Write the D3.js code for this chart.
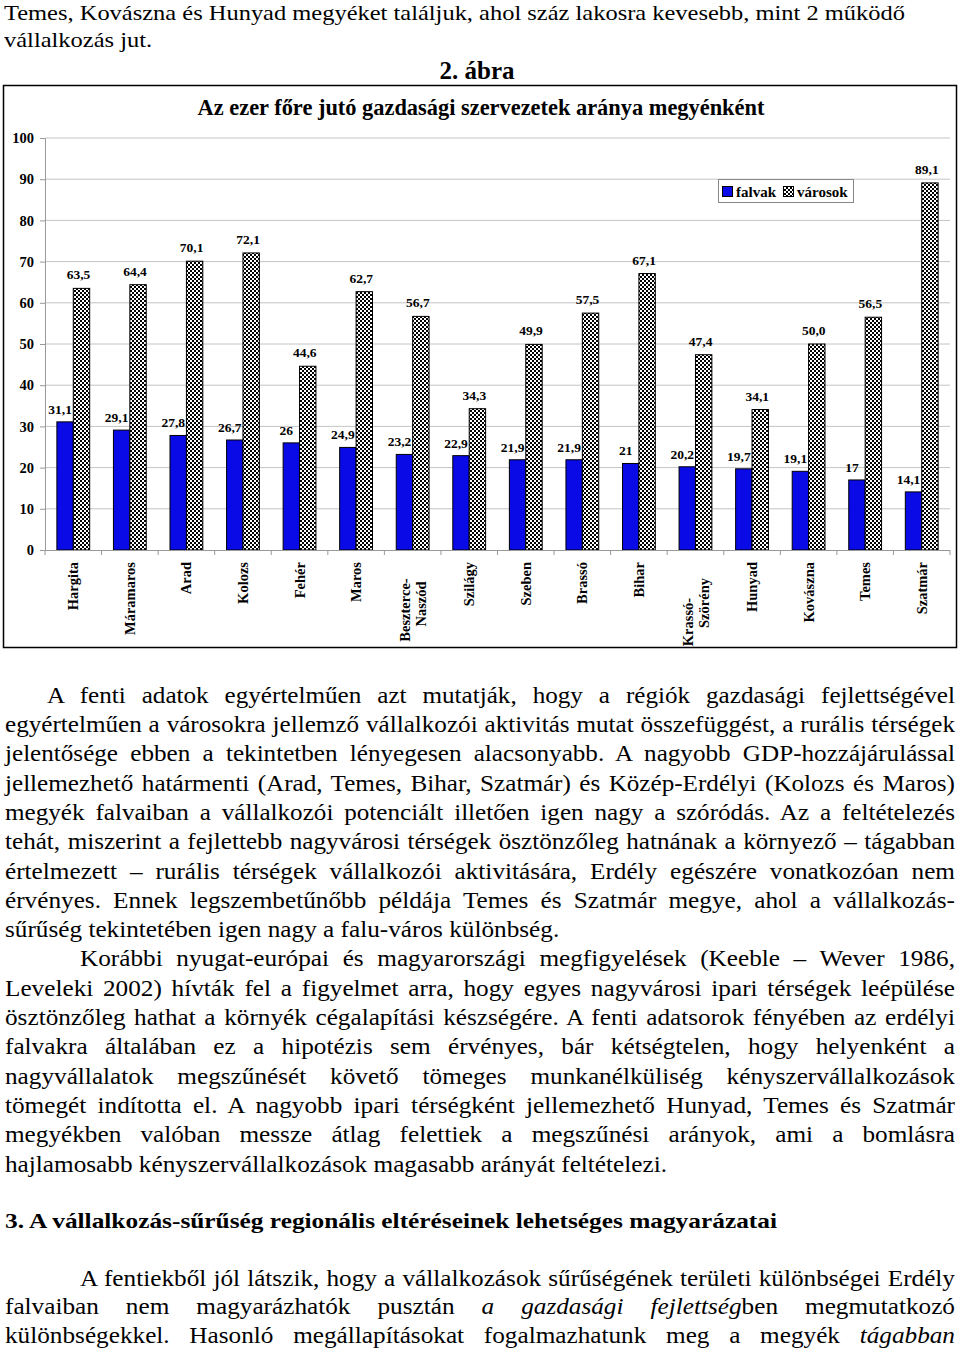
<!DOCTYPE html>
<html>
<head>
<meta charset="utf-8">
<script src="https://cdn.jsdelivr.net/npm/d3@7"></script>
<style>
  body { margin: 0; background: #fff; width: 960px; height: 1349px; position: relative; overflow: hidden;
         font-family: "Liberation Serif", "Times New Roman", serif; }
  #chart { position: absolute; left: 0; top: 0; }
  .ln { position: absolute; color: #000; transform-origin: 0 0; line-height: 29px; }
  .just { text-align: justify; text-align-last: justify; white-space: normal; }
  .left { text-align: left; white-space: nowrap; }
  #measure { position: absolute; visibility: hidden; white-space: nowrap; left: 0; top: 0; }
</style>
</head>
<body>
<svg id="chart" width="960" height="660"></svg>
<div id="text"></div>
<span id="measure"></span>
<script>
// chart data
var counties = ["Hargita", "Máramaros", "Arad", "Kolozs", "Fehér", "Maros", "Beszterce-Naszód", "Szilágy",
                "Szeben", "Brassó", "Bihar", "Krassó-Szörény", "Hunyad", "Kovászna", "Temes", "Szatmár"];
var falvak  = [31.1, 29.1, 27.8, 26.7, 26, 24.9, 23.2, 22.9, 21.9, 21.9, 21, 20.2, 19.7, 19.1, 17, 14.1];
var varosok = [63.5, 64.4, 70.1, 72.1, 44.6, 62.7, 56.7, 34.3, 49.9, 57.5, 67.1, 47.4, 34.1, 50.0, 56.5, 89.1];
var yTicks  = [0, 10, 20, 30, 40, 50, 60, 70, 80, 90, 100];
var seriesNames = ["falvak", "városok"];

// text of the page
var topLines = [
  "Temes, Kovászna és Hunyad megyéket találjuk, ahol száz lakosra kevesebb, mint 2 működő",
  "vállalkozás jut."
];
var para1 = [
  "A fenti adatok egyértelműen azt mutatják, hogy a régiók gazdasági fejlettségével",
  "egyértelműen a városokra jellemző vállalkozói aktivitás mutat összefüggést, a rurális térségek",
  "jelentősége ebben a tekintetben lényegesen alacsonyabb. A nagyobb GDP-hozzájárulással",
  "jellemezhető határmenti (Arad, Temes, Bihar, Szatmár) és Közép-Erdélyi (Kolozs és Maros)",
  "megyék falvaiban a vállalkozói potenciált illetően igen nagy a szóródás. Az a feltételezés",
  "tehát, miszerint a fejlettebb nagyvárosi térségek ösztönzőleg hatnának a környező – tágabban"
];
var para1b = [
  "értelmezett – rurális térségek vállalkozói aktivitására, Erdély egészére vonatkozóan nem",
  "érvényes. Ennek legszembetűnőbb példája Temes és Szatmár megye, ahol a vállalkozás-",
  "sűrűség tekintetében igen nagy a falu-város különbség."
];
var para2 = [
  "Korábbi nyugat-európai és magyarországi megfigyelések (Keeble – Wever 1986,",
  "Leveleki 2002) hívták fel a figyelmet arra, hogy egyes nagyvárosi ipari térségek leépülése",
  "ösztönzőleg hathat a környék cégalapítási készségére. A fenti adatsorok fényében az erdélyi",
  "falvakra általában ez a hipotézis sem érvényes, bár kétségtelen, hogy helyenként a",
  "nagyvállalatok megszűnését követő tömeges munkanélküliség kényszervállalkozások",
  "tömegét indította el. A nagyobb ipari térségként jellemezhető Hunyad, Temes és Szatmár",
  "megyékben valóban messze átlag felettiek a megszűnési arányok, ami a bomlásra",
  "hajlamosabb kényszervállalkozások magasabb arányát feltételezi."
];
var heading = "3. A vállalkozás-sűrűség regionális eltéréseinek lehetséges magyarázatai";
var para3 = [
  "A fentiekből jól látszik, hogy a vállalkozások sűrűségének területi különbségei Erdély",
  "falvaiban nem magyarázhatók pusztán <i>a gazdasági fejlettség</i>ben megmutatkozó",
  "különbségekkel. Hasonló megállapításokat fogalmazhatunk meg a megyék <i>tágabban</i>"
];

var fmt = function(v) { return String(v).replace(".", ","); };
var fmt1 = function(v) { return v.toFixed(1).replace(".", ","); };

var svg = d3.select("#chart");
var defs = svg.append("defs");
var pat = defs.append("pattern").attr("id", "checks")
  .attr("patternUnits", "userSpaceOnUse").attr("width", 4).attr("height", 4);
pat.append("rect").attr("width", 4).attr("height", 4).attr("fill", "#fff");
pat.append("rect").attr("width", 2).attr("height", 2).attr("fill", "#000");
pat.append("rect").attr("x", 2).attr("y", 2).attr("width", 2).attr("height", 2).attr("fill", "#000");

// figure caption + title
svg.append("text").attr("x", 477).attr("y", 79).attr("text-anchor", "middle")
  .attr("font-size", 25).attr("font-weight", "bold").text("2. ábra");

svg.append("rect").attr("x", 3.5).attr("y", 85.5).attr("width", 953).attr("height", 562)
  .attr("fill", "none").attr("stroke", "#000").attr("stroke-width", 1.5);

svg.append("text").attr("x", 481).attr("y", 115).attr("text-anchor", "middle")
  .attr("font-size", 22.4).attr("font-weight", "bold")
  .text("Az ezer főre jutó gazdasági szervezetek aránya megyénként");

// scales
var x = d3.scaleBand().domain(counties).range([45, 950]);
var y = d3.scaleLinear().domain([0, 100]).range([550, 138]);
var bw = x.bandwidth() * 0.29;
var cx = function(i) { return x(counties[i]) + x.bandwidth() / 2; };

// gridlines
svg.append("g").selectAll("line").data(yTicks.filter(function(d) { return d > 0; })).join("line")
  .attr("x1", 45).attr("x2", 950)
  .attr("y1", function(d) { return y(d); }).attr("y2", function(d) { return y(d); })
  .attr("stroke", "#c4c4c4").attr("stroke-width", 1);

// y axis
var yAxis = svg.append("g").attr("transform", "translate(45,0)")
  .call(d3.axisLeft(y).tickValues(yTicks).tickSize(5).tickSizeOuter(0).tickPadding(6).tickFormat(d3.format("d")));
yAxis.select(".domain").attr("stroke", "#999");
yAxis.selectAll(".tick line").attr("stroke", "#999");
yAxis.selectAll("text").attr("font-family", "Liberation Serif").attr("font-size", 14.5)
  .attr("font-weight", "bold").attr("fill", "#000");

// village bars (blue)
svg.append("g").selectAll("rect").data(falvak).join("rect")
  .attr("x", function(d, i) { return cx(i) - bw; })
  .attr("y", function(d) { return y(d); })
  .attr("width", bw).attr("height", function(d) { return y(0) - y(d); })
  .attr("fill", "#0a0ae6").attr("stroke", "#000").attr("stroke-width", 1);

svg.append("g").selectAll("text").data(falvak).join("text")
  .attr("x", function(d, i) { return cx(i) - bw / 2 - 5; })
  .attr("y", function(d) { return y(d) - 8; })
  .attr("text-anchor", "middle").attr("font-size", 13.5).attr("font-weight", "bold")
  .text(fmt);

// town bars (checkered)
svg.append("g").selectAll("rect").data(varosok).join("rect")
  .attr("x", function(d, i) { return cx(i); })
  .attr("y", function(d) { return y(d); })
  .attr("width", bw).attr("height", function(d) { return y(0) - y(d); })
  .attr("fill", "url(#checks)").attr("stroke", "#000").attr("stroke-width", 1);

svg.append("g").selectAll("text").data(varosok).join("text")
  .attr("x", function(d, i) { return cx(i) + bw / 2 - 3; })
  .attr("y", function(d) { return y(d) - 9; })
  .attr("text-anchor", "middle").attr("font-size", 13.5).attr("font-weight", "bold")
  .text(fmt1);

// x axis
svg.append("line").attr("x1", 45).attr("x2", 950).attr("y1", y(0) + 0.5).attr("y2", y(0) + 0.5)
  .attr("stroke", "#999");
var bounds = counties.map(function(c) { return x(c); }).concat([x.range()[1]]);
svg.append("g").selectAll("line").data(bounds).join("line")
  .attr("x1", function(d) { return d; }).attr("x2", function(d) { return d; })
  .attr("y1", y(0)).attr("y2", y(0) + 5).attr("stroke", "#999");

// category labels, rotated
var lineY = { "Beszterce-": 610, "Naszód": 604, "Krassó-": 622, "Szörény": 603 };
counties.forEach(function(c, i) {
  var parts = c.indexOf("-") > 0 ? [c.slice(0, c.indexOf("-") + 1), c.slice(c.indexOf("-") + 1)] : [c];
  parts.forEach(function(p, k) {
    var dx = parts.length === 1 ? 0 : (k === 0 ? -8 : 8);
    var t = svg.append("text")
      .attr("font-size", 14.5).attr("font-weight", "bold").attr("dy", "0.35em").text(p);
    if (parts.length === 1) {
      t.attr("text-anchor", "end").attr("transform", "translate(" + (cx(i) + dx) + ",562) rotate(-90)");
    } else {
      t.attr("text-anchor", "middle").attr("transform", "translate(" + (cx(i) + dx) + "," + lineY[p] + ") rotate(-90)");
    }
  });
});

// legend
var lg = svg.append("g").attr("transform", "translate(718,179)");
lg.append("rect").attr("x", 0.5).attr("y", 0.5).attr("width", 135).attr("height", 23)
  .attr("fill", "#fff").attr("stroke", "#888");
lg.append("rect").attr("x", 4.5).attr("y", 7.5).attr("width", 10).attr("height", 10)
  .attr("fill", "#0a0ae6").attr("stroke", "#000");
lg.append("text").attr("x", 18).attr("y", 18).attr("font-size", 15).attr("font-weight", "bold").text(seriesNames[0]);
lg.append("rect").attr("x", 65.5).attr("y", 7.5).attr("width", 10).attr("height", 10)
  .attr("fill", "url(#checks)").attr("stroke", "#000");
lg.append("text").attr("x", 79).attr("y", 18).attr("font-size", 15).attr("font-weight", "bold").text(seriesNames[1]);

// ---- body text ----
var meas = d3.select("#measure");
function natural(html, size, bold) {
  meas.style("font-size", size + "px").style("font-weight", bold ? "bold" : "normal").html(html);
  return meas.node().getBoundingClientRect().width;
}
var textLayer = d3.select("#text");
function line(html, o) {
  var w = o.right - o.left;
  var s = o.scale;
  var nat = natural(html, o.size, o.bold);
  if (o.just && nat * s > w) s = w / nat * 0.999;
  textLayer.append("div").attr("class", "ln " + (o.just ? "just" : "left"))
    .style("left", o.left + "px")
    .style("top", (o.base - (29 - o.size * 1.107) / 2 - o.size * 0.891) + "px")
    .style("width", (w / s) + "px")
    .style("font-size", o.size + "px")
    .style("font-weight", o.bold ? "bold" : "normal")
    .style("transform", "scaleX(" + s + ")")
    .html(html);
}

// top two lines, widened
var sTop = 901 / natural(topLines[0], 22, false);
line(topLines[0], { left: 4, right: 960, base: 20, size: 22, scale: sTop });
line(topLines[1], { left: 4, right: 960, base: 47, size: 22, scale: sTop });

var step = 29.3, b0 = 703;
// first block is set wider than the rest
var sN = 944 / natural(para1[1], 23, false);
para1.forEach(function(t, k) {
  line(t, { left: k === 0 ? 47 : 5, right: 955, base: b0 + step * k, size: 23, scale: sN, just: true });
});
// condensed part
var sC = 662 / natural(para2[para2.length - 1], 23, false);
para1b.forEach(function(t, k) {
  var last = k === para1b.length - 1;
  line(t, { left: 5, right: last ? 960 : 955, base: b0 + step * (6 + k), size: 23, scale: sC, just: !last });
});
para2.forEach(function(t, k) {
  var last = k === para2.length - 1;
  line(t, { left: k === 0 ? 80 : 5, right: last ? 960 : 955, base: b0 + step * (9 + k), size: 23, scale: sC, just: !last });
});
var sH = 772 / natural(heading, 22, true);
line(heading, { left: 5, right: 960, base: 1228, size: 22, bold: true, scale: sH });
para3.forEach(function(t, k) {
  line(t, { left: k === 0 ? 80 : 5, right: 955, base: 1286 + 28.7 * k, size: 23, scale: sC, just: true });
});
</script>
</body>
</html>
